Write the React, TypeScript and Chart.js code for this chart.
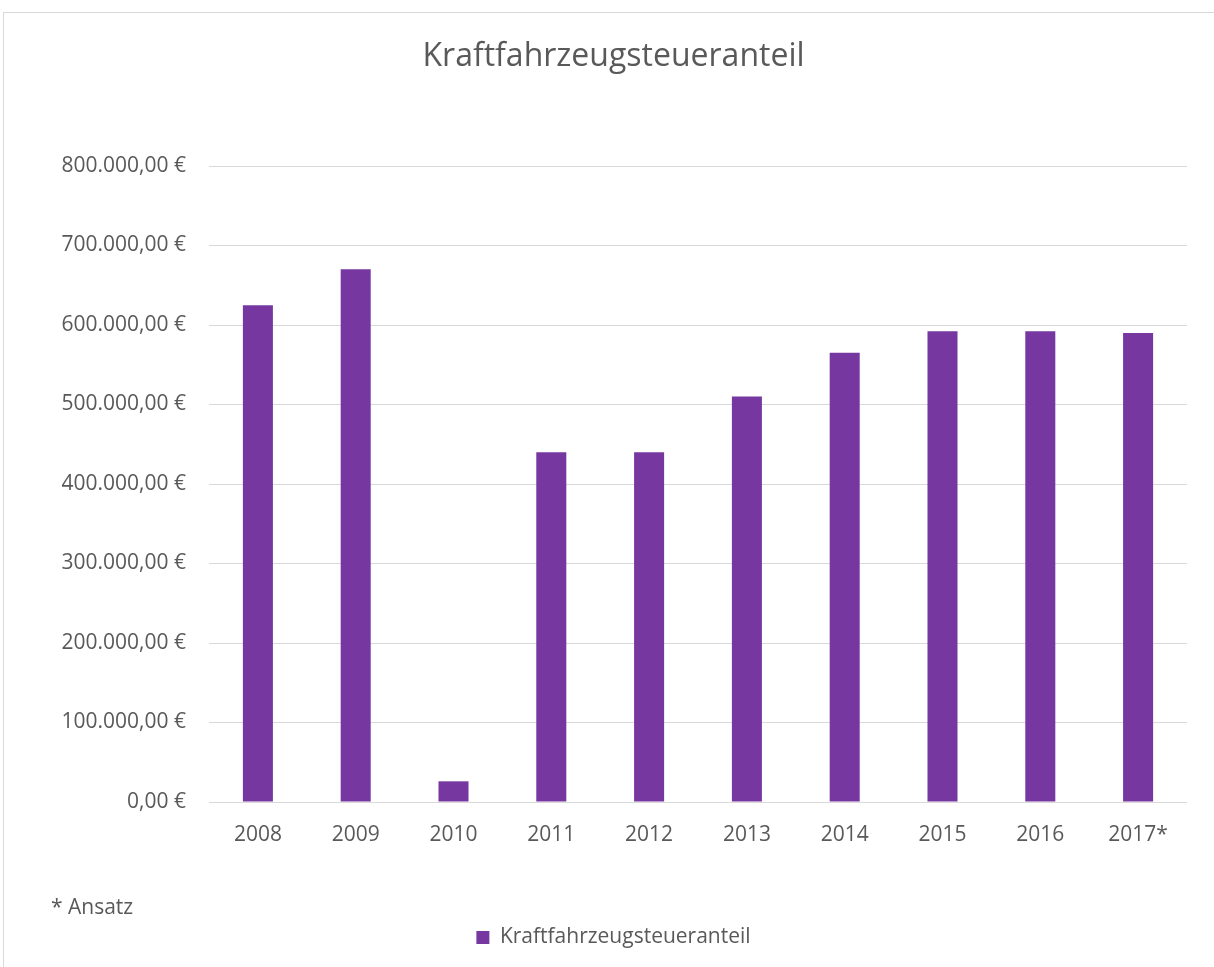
import React, { useEffect, useRef } from "react";
import { Chart, registerables } from "chart.js";

Chart.register(...registerables);

const title = "Kraftfahrzeugsteueranteil";
const seriesName = "Kraftfahrzeugsteueranteil";
const footnote = "* Ansatz";
const categories = ["2008", "2009", "2010", "2011", "2012", "2013", "2014", "2015", "2016", "2017*"];
const values = [625000, 670000, 26000, 440000, 440000, 510000, 565000, 592000, 592000, 590000];
const yTickValues = [0, 100000, 200000, 300000, 400000, 500000, 600000, 700000, 800000];
const yTickLabels = ["0,00 €", "100.000,00 €", "200.000,00 €", "300.000,00 €", "400.000,00 €", "500.000,00 €", "600.000,00 €", "700.000,00 €", "800.000,00 €"];

const TEXT = "#595959";
const GRID = "#d9d9d9";
const BAR = "#7637a0";
const FONT = "'Open Sans', 'DejaVu Sans', sans-serif";

const framePlugin = {
  id: "frame",
  beforeDraw(chart: any) {
    const ctx = chart.ctx;
    ctx.save();
    ctx.fillStyle = "#ffffff";
    ctx.fillRect(0, 0, chart.width, chart.height);
    ctx.strokeStyle = GRID;
    ctx.lineWidth = 1;
    ctx.strokeRect(3.5, 12.5, chart.width + 50, chart.height + 50);
    ctx.restore();
  },
};

const footnotePlugin = {
  id: "footnote",
  afterDraw(chart: any) {
    const ctx = chart.ctx;
    ctx.save();
    ctx.fillStyle = TEXT;
    ctx.font = "21px " + FONT;
    ctx.textAlign = "left";
    ctx.textBaseline = "alphabetic";
    ctx.fillText(footnote, 51, 914);
    ctx.restore();
  },
};

export default function App() {
  const ref = useRef<HTMLCanvasElement | null>(null);
  useEffect(() => {
    if (!ref.current) return;
    const chart = new Chart(ref.current, {
      type: "bar",
      data: {
        labels: categories,
        datasets: [
          {
            label: seriesName,
            data: values,
            backgroundColor: BAR,
            borderWidth: 0,
            barPercentage: 1,
            categoryPercentage: 0.307,
          },
        ],
      },
      plugins: [framePlugin, footnotePlugin],
      options: {
        animation: false,
        responsive: true,
        maintainAspectRatio: false,
        layout: { padding: { top: 0, left: 13, right: 0, bottom: 9 } },
        plugins: {
          title: {
            display: true,
            text: title,
            color: TEXT,
            font: { family: FONT, size: 32, weight: "normal" },
            padding: { top: 37.8, bottom: 89.8 },
          },
          legend: {
            display: true,
            position: "bottom",
            labels: {
              color: TEXT,
              font: { family: FONT, size: 21 },
              boxWidth: 13,
              boxHeight: 13,
              padding: 10,
            },
          },
          tooltip: { enabled: false },
        },
        scales: {
          x: {
            grid: { display: false },
            border: { display: false },
            afterFit(scale: any) {
              scale.height = 115;
            },
            ticks: {
              color: TEXT,
              font: { family: FONT, size: 21 },
              padding: 12.5,
              maxRotation: 0,
              autoSkip: false,
            },
          },
          y: {
            min: 0,
            max: 800000,
            afterFit(scale: any) {
              scale.width = 196;
            },
            afterBuildTicks(scale: any) {
              scale.ticks = yTickValues.map((v) => ({ value: v }));
            },
            grid: { color: GRID, lineWidth: 1, drawTicks: false },
            border: { display: false },
            ticks: {
              color: TEXT,
              font: { family: FONT, size: 21 },
              padding: 23,
              callback: (v: any) => yTickLabels[yTickValues.indexOf(Number(v))] ?? "",
            },
          },
          yRight: {
            type: "linear",
            position: "right",
            display: true,
            min: 0,
            max: 1,
            grid: { display: false, drawOnChartArea: false },
            border: { display: false },
            ticks: { display: false },
            afterFit(scale: any) {
              scale.width = 27;
            },
          },
        },
      } as any,
    });
    return () => chart.destroy();
  }, []);
  return (
    <div style={{ position: "absolute", left: 0, top: 0, width: 1214, height: 967 }}>
      <canvas ref={ref} />
    </div>
  );
}
